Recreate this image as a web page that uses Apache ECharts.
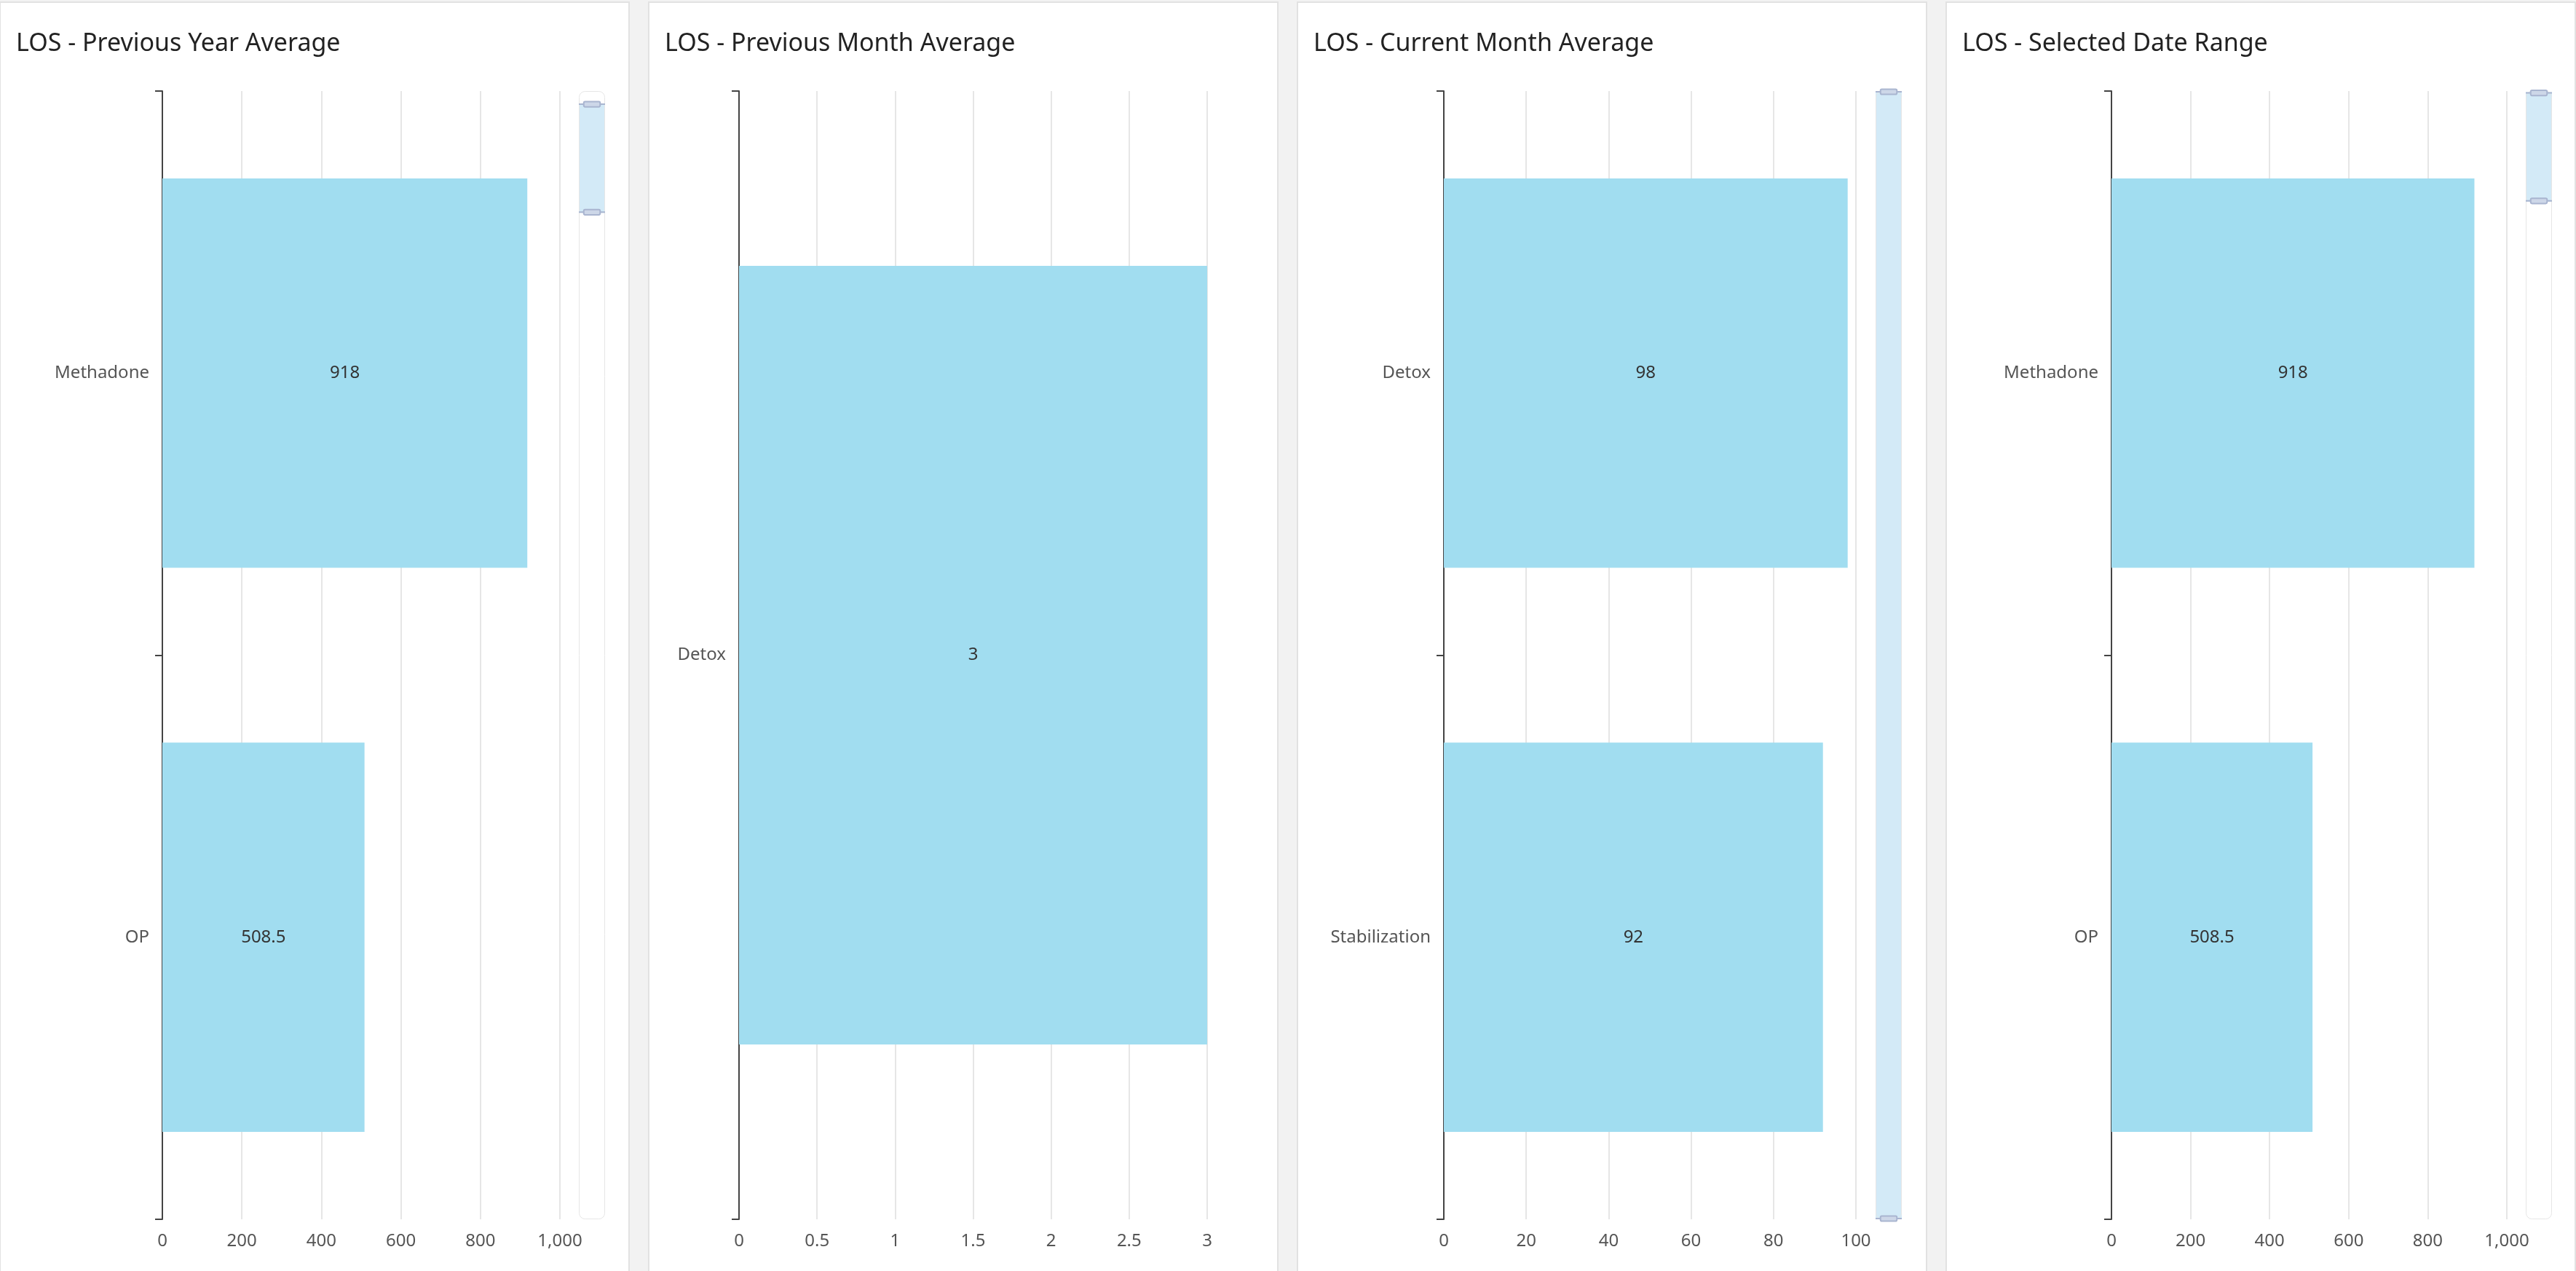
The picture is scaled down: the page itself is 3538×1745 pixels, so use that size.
<!DOCTYPE html>
<html>
<head>
<meta charset="utf-8">
<script src="https://cdn.jsdelivr.net/npm/echarts@6/dist/echarts.min.js"></script>
<style>
html,body{margin:0;padding:0;background:#f2f2f2;}
#c{width:3538px;height:1745px;}
</style>
</head>
<body>
<div id="c"></div>
<script>
// ---- data ----
const titles = ['LOS - Previous Year Average','LOS - Previous Month Average','LOS - Current Month Average','LOS - Selected Date Range'];
const prevYearCategories = ['Methadone','OP'];
const prevYearValues = [918, 508.5];
const prevMonthCategories = ['Detox'];
const prevMonthValues = [3];
const curMonthCategories = ['Detox','Stabilization'];
const curMonthValues = [98, 92];
const rangeCategories = ['Methadone','OP'];
const rangeValues = [918, 508.5];
const axisMax = [1000, 3, 100, 1000];
const axisInterval = [200, 0.5, 20, 200];
// slider windows (percent), null = no slider
const sliderWindows = [[89.2, 98.9], null, [0, 100], [90.2, 99.9]];

const cats = [prevYearCategories, prevMonthCategories, curMonthCategories, rangeCategories];
const vals = [prevYearValues, prevMonthValues, curMonthValues, rangeValues];

// ---- layout ----
const panelX = [0, 891, 1782, 2673];
const panelW = 864;
const gridLeft = [223, 1015, 1983, 2900];
const gridRight = [769, 1658, 2549, 3443];
const sliderLeft = [794, null, 2575, 3468];
const gridTop = 125, gridBottom = 1674;

const font = '"Noto Sans", "Open Sans", sans-serif';
const chart = echarts.init(document.getElementById('c'), null, {renderer:'canvas'});

const graphic = [];
const title = [];
const grid = [], xAxis = [], yAxis = [], series = [], dataZoom = [];

for (let i = 0; i < 4; i++) {
  graphic.push({type:'rect', shape:{x:panelX[i], y:3, width:panelW, height:1800},
    style:{fill:'#ffffff', stroke:'#e2e2e2', lineWidth:2}, z:-10});
  title.push({text:titles[i], left:panelX[i]+17, top:38,
    textStyle:{fontFamily:font, fontSize:34, fontWeight:'normal', color:'#222'}});
  grid.push({left:gridLeft[i], top:gridTop, width:gridRight[i]-gridLeft[i], height:gridBottom-gridTop});
  xAxis.push({type:'value', gridIndex:i, min:0, max:axisMax[i], interval:axisInterval[i],
    axisLine:{show:false}, axisTick:{show:false},
    splitLine:{lineStyle:{color:'#e6e6e6', width:2}},
    axisLabel:{fontFamily:font, fontSize:24, color:'#555', margin:18}});
  yAxis.push({type:'category', gridIndex:i, data:cats[i], inverse:true,
    axisLine:{lineStyle:{color:'#444', width:2}},
    axisTick:{show:true, length:10, lineStyle:{color:'#444', width:2}},
    axisLabel:{fontFamily:font, fontSize:24, color:'#555', margin:18}});
  series.push({type:'bar', xAxisIndex:i, yAxisIndex:yAxis.length-1, data:vals[i],
    barCategoryGap:'31%', itemStyle:{color:'#a1ddf0'},
    label:{show:true, position:'inside', fontFamily:font, fontSize:24, color:'#333'}});
}
// hidden helper axes for the sliders
for (let i = 0; i < 4; i++) {
  if (!sliderWindows[i]) continue;
  yAxis.push({type:'value', gridIndex:i, show:false, min:0, max:100});
  dataZoom.push({type:'slider', yAxisIndex:yAxis.length-1, orient:'vertical',
    left:sliderLeft[i], top:gridTop, width:36, height:gridBottom-gridTop,
    start:sliderWindows[i][0], end:sliderWindows[i][1],
    showDetail:false, showDataShadow:false, brushSelect:false,
    moveHandleSize:0, filterMode:'none',
    backgroundColor:'rgba(255,255,255,0)', borderColor:'#e6e6e6', borderRadius:8,
    fillerColor:'rgba(167,213,240,0.5)',
    handleSize:'100%',
    handleStyle:{color:'#cdd7e8', borderColor:'#a9b5d0', borderWidth:2},
    dataBackground:{lineStyle:{opacity:0}, areaStyle:{opacity:0}}});
}

chart.setOption({animation:false, graphic, title, grid, xAxis, yAxis, series, dataZoom});
</script>
</body>
</html>
